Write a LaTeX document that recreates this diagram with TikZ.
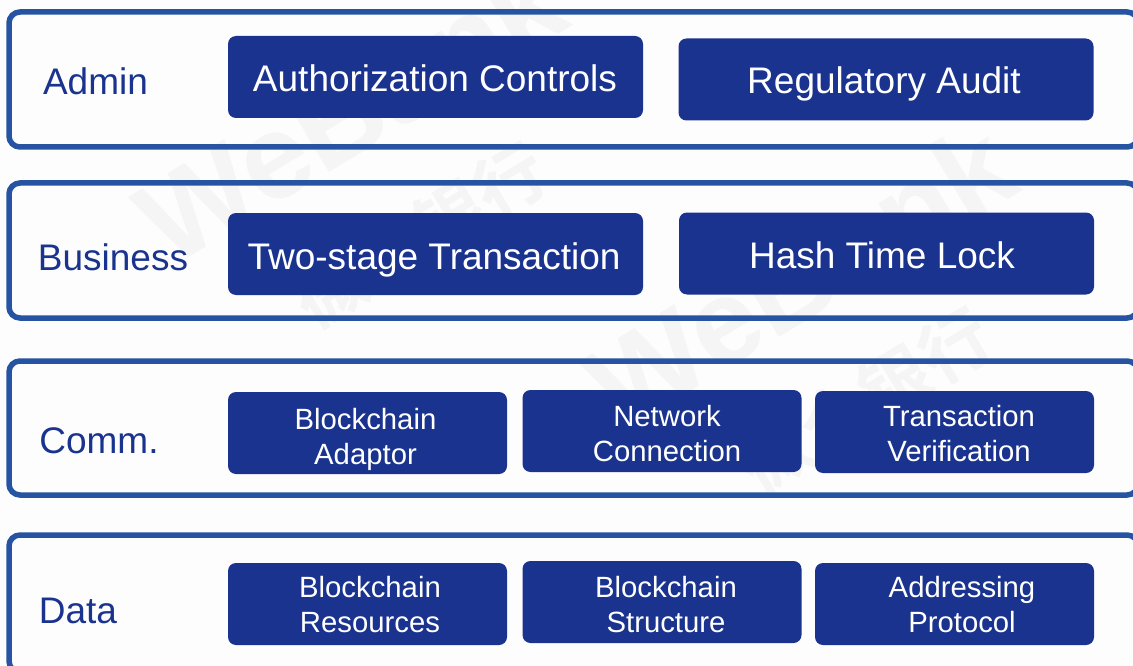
\documentclass[tikz,border=0pt]{standalone}
\usepackage{fontspec}
\setmainfont{Liberation Sans}
\newfontfamily\cjk{Noto Sans CJK SC Bold}
\definecolor{deep}{RGB}{26, 51, 142}
\definecolor{edge}{RGB}{38, 84, 162}
\definecolor{paper}{RGB}{253, 253, 253}
\definecolor{mark}{RGB}{245, 245, 245}
\tikzset{
  panel/.style={draw=edge, line width=5.5pt, rounded corners=11pt},
  wide/.style={fill=deep, draw=none, rounded corners=8pt, minimum width=415pt, minimum height=82pt, inner sep=0pt},
  narrow/.style={wide, minimum width=279pt},
  big/.style={color=white, font=\fontsize{37}{37}\selectfont},
  small/.style={color=white, align=center, font=\fontsize{29.3}{35}\selectfont},
  layer/.style={color=deep, font=\fontsize{37}{37}\selectfont}
}

\begin{document}
\begin{tikzpicture}[x=1pt, y=-1pt]
  
  \useasboundingbox (0, 0) rectangle (1133, 666);
  \fill[paper] (0, 0) rectangle (1133, 666);
  
  % watermark
  \node[color=mark, rotate=31, font=\fontsize{120}{120}\selectfont\bfseries] (markA) at (350, 110) {WeBank};
  \node[color=mark, rotate=31, font=\cjk\fontsize{70}{70}\selectfont] (markB) at (420, 235) {微众银行};
  \node[color=mark, rotate=31, font=\fontsize{120}{120}\selectfont\bfseries] (markC) at (800, 275) {WeBank};
  \node[color=mark, rotate=31, font=\cjk\fontsize{70}{70}\selectfont] (markD) at (865, 400) {微众银行};
  
  \draw[panel] (9, 12) rectangle (1138, 147);
  \draw[panel] (9, 183) rectangle (1138, 318);
  \draw[panel] (9, 361) rectangle (1138, 495);
  \draw[panel] (9, 535) rectangle (1138, 672);
  
  \node[layer] (admin) at (95.5, 81) {Admin};
  \node[layer] (business) at (113, 257) {Business};
  \node[layer] (comm) at (99, 441) {Comm.};
  \node[layer] (data) at (78, 611) {Data};
  
  \node[wide] (auth) at (435.5, 77) {};
  \node[big] (authT) at (435, 78) {Authorization Controls};
  \node[wide] (audit) at (886, 79.5) {};
  \node[big] (auditT) at (884, 84) {Regulatory Audit};
  
  \node[wide] (stage) at (435.5, 254) {};
  \node[big] (stageT) at (434, 260) {Two-stage Transaction};
  \node[wide] (hash) at (886.5, 253.5) {};
  \node[big] (hashT) at (882, 255) {Hash Time Lock};
  
  \node[narrow] (adaptor) at (367.5, 433) {};
  \node[small] (adaptorT) at (365.5, 439) {Blockchain\\Adaptor};
  \node[narrow] (network) at (662, 431) {};
  \node[small] (networkT) at (667, 434) {Network\\Connection};
  \node[narrow] (verify) at (954.5, 432) {};
  \node[small] (verifyT) at (959, 434) {Transaction\\Verification};
  
  \node[narrow] (resource) at (367.5, 604) {};
  \node[small] (resourceT) at (370, 605) {Blockchain\\Resources};
  \node[narrow] (structure) at (662, 602) {};
  \node[small] (structureT) at (666, 605) {Blockchain\\Structure};
  \node[narrow] (protocol) at (954.5, 604) {};
  \node[small] (protocolT) at (962, 605) {Addressing\\Protocol};
  
\end{tikzpicture}
\end{document}
